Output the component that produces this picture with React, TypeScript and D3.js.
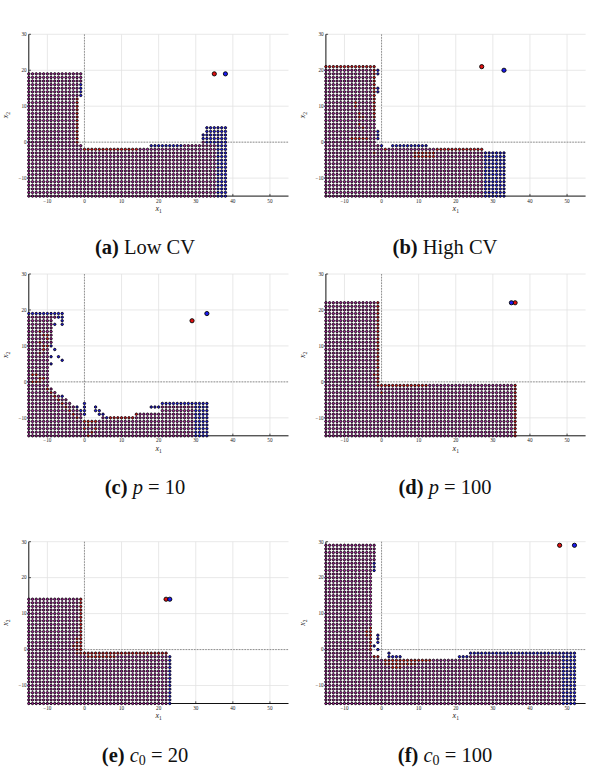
import React from 'react';
import * as d3 from 'd3';

type R = [number, number, number, number]; // x1 from, x1 to, x2 from, x2 to
type P = [number, number];

const xDomain: P = [-15, 55];
const yDomain: P = [-15, 30];
const xTicks = [-10, 0, 10, 20, 30, 40, 50];
const yTicks = [-10, 0, 10, 20, 30];

// (a) Low CV
const aGrid: R[] = [[-15, -2, -15, 19], [-1, -1, 13, 19], [-1, -1, -15, -1], [0, 17, -15, -2], [18, 31, -15, -1], [32, 32, -15, 2], [33, 38, -15, 4]];
const aRed: R[] = [[-2, -2, 0, 12], [0, 14, -2, -2]];
const aBlue: R[] = [[-1, -1, 13, 16], [18, 26, -1, -1], [32, 32, 1, 2], [33, 38, 0, 4], [36, 38, -15, -1]];
const aOpt: P = [35, 19];
const aFound: P = [38, 19];

// (b) High CV
const bGrid: R[] = [[-15, -2, -15, 21], [-1, 0, -15, -1], [1, 27, -15, -2], [28, 33, -15, -3]];
const bRed: R[] = [[-15, -3, 21, 21], [-2, -2, 7, 21], [-7, -7, 10, 11], [-6, -6, 7, 8], [-5, -5, 7, 7], [-6, -6, 5, 5], [-5, -5, 4, 4], [-8, -4, 1, 1], [15, 27, -2, -2], [9, 14, -4, -3], [1, 1, -2, -2], [-2, -2, -3, -3]];
const bBlue: R[] = [[-1, -1, 19, 20], [-1, -1, 14, 15], [-1, -1, 1, 3], [0, 0, -1, -1], [3, 12, -1, -1], [28, 33, -15, -3]];
const bOpt: P = [27, 21];
const bFound: P = [33, 20];

// (c) p = 10
const cGrid: R[] = [
  [-15, -6, 18, 19], [-15, -9, 11, 17], [-15, -10, -1, 10],
  [-15, -9, -2, -2], [-15, -8, -3, -3], [-15, -7, -4, -4], [-15, -5, -5, -5], [-15, -4, -6, -6], [-15, -3, -7, -7],
  [-15, -2, -8, -8], [-15, -1, -10, -9], [-15, 3, -15, -11], [4, 4, -15, -11], [5, 13, -15, -10], [14, 20, -15, -9], [21, 33, -15, -6],
];
const cRed: R[] = [
  [-12, -12, 14, 14], [-11, -11, 13, 13], [-10, -10, 12, 13], [-12, -12, 11, 11], [-11, -10, 10, 10], [-11, -11, 9, 9], [-12, -12, 8, 8],
  [-14, -13, 2, 2], [-12, -11, 1, 1], [-14, -12, 0, 0],
  [-10, -10, -2, -2], [-9, -9, -3, -3], [-8, -8, -4, -4], [-7, -7, -5, -5], [-6, -6, -6, -6], [-5, -5, -7, -7], [-4, -4, -8, -8], [-3, -3, -9, -9], [-2, -2, -10, -10],
  [0, 3, -11, -11], [0, 0, -13, -13], [1, 1, -12, -12], [2, 2, -14, -14], [1, 1, -15, -15], [3, 3, -13, -13],
  [7, 13, -10, -10], [14, 14, -9, -9],
];
const cBlue: R[] = [
  [-15, -6, 19, 19], [-7, -6, 18, 18], [-6, -6, 16, 17], [-8, -8, 16, 16],
  [-9, -9, 10, 10], [-8, -8, 9, 9], [-9, -9, 7, 7], [-7, -7, 7, 7], [-6, -6, 6, 6], [-9, -9, 5, 5],
  [-6, -6, -4, -4], [-2, -2, -7, -7], [-1, -1, -8, -8], [0, 0, -9, -6],
  [3, 3, -8, -7], [4, 4, -9, -8], [5, 5, -9, -9], [6, 6, -10, -10],
  [18, 20, -7, -7], [21, 33, -6, -6], [30, 33, -15, -7],
];
const cOpt: P = [29, 17];
const cFound: P = [33, 19];

// (d) p = 100
const dGrid: R[] = [[-15, -1, -15, 22], [0, 36, -15, -1]];
const dRed: R[] = [[-1, -1, -1, 22], [0, 12, -1, -1], [36, 36, -15, -1], [-2, -2, 2, 2], [0, 0, -3, -3]];
const dBlue: R[] = [];
const dOpt: P = [36, 22];
const dFound: P = [35, 22];

// (e) c0 = 20
const eGrid: R[] = [[-15, -1, -15, 14], [0, 22, -15, -1], [23, 23, -15, -2]];
const eRed: R[] = [[-1, -1, -1, 14], [-2, -2, -1, 3], [-3, -3, 1, 1], [0, 22, -1, -1], [1, 8, -2, -2]];
const eBlue: R[] = [[23, 23, -15, -2]];
const eOpt: P = [22, 14];
const eFound: P = [23, 14];

// (f) c0 = 100
const fGrid: R[] = [[-15, -3, -15, 29], [-2, -2, 22, 29], [-2, -1, -15, -2], [0, 20, -15, -3], [21, 23, -15, -2], [24, 52, -15, -1]];
const fRed: R[] = [[-3, -3, 0, 6], [-4, -4, 4, 5], [-2, -1, -2, -2], [1, 13, -3, -3], [1, 9, -4, -4], [3, 5, -5, -5]];
const fBlue: R[] = [[-2, -2, 22, 24], [-1, -1, 2, 4], [-1, -1, 0, 0], [-2, -2, 1, 1], [2, 2, -1, -1], [2, 5, -2, -2], [21, 23, -2, -2], [24, 52, -1, -1], [49, 52, -15, -2]];
const fOpt: P = [48, 29];
const fFound: P = [52, 29];

const PURPLE = '#a8209a';
const RED = '#e01010';
const BLUE = '#1a1af0';
const EDGE = '#0a030a';

const W = 259.7;
const H = 161.8;
const SERIF = "'Liberation Serif', 'DejaVu Serif', serif";

type Cap = React.ReactNode;

interface PanelDef {
  left: number;
  top: number;
  grid: R[];
  red: R[];
  blue: R[];
  opt: P;
  found: P;
  capX: number;
  caption: Cap;
}

function expand(rects: R[], color: string, map: Map<string, { x: number; y: number; c: string }>) {
  rects.forEach(([a, b, c, d]) => {
    for (const i of d3.range(a, b + 1)) {
      for (const j of d3.range(c, d + 1)) {
        map.set(`${i},${j}`, { x: i, y: j, c: color });
      }
    }
  });
}

function Panel({ p }: { p: PanelDef }) {
  const x = d3.scaleLinear().domain(xDomain).range([0, W]);
  const y = d3.scaleLinear().domain(yDomain).range([H, 0]);
  const map = new Map<string, { x: number; y: number; c: string }>();
  expand(p.grid, PURPLE, map);
  expand(p.red, RED, map);
  expand(p.blue, BLUE, map);
  const pts = Array.from(map.values());
  return (
    <g transform={`translate(${p.left},${p.top})`}>
      {xTicks.map((t) => (
        <line key={'gx' + t} x1={x(t)} x2={x(t)} y1={0} y2={H} stroke="#e2e2e2" strokeWidth={0.8} />
      ))}
      {yTicks.map((t) => (
        <line key={'gy' + t} x1={0} x2={W} y1={y(t)} y2={y(t)} stroke="#e2e2e2" strokeWidth={0.8} />
      ))}
      <line x1={x(0)} x2={x(0)} y1={0} y2={H} stroke="#7a7a7a" strokeWidth={0.8} strokeDasharray="1.6,1.2" />
      <line x1={0} x2={W} y1={y(0)} y2={y(0)} stroke="#7a7a7a" strokeWidth={0.8} strokeDasharray="1.6,1.2" />
      <line x1={0} x2={0} y1={0} y2={H} stroke="#111" strokeWidth={1} />
      <line x1={0} x2={W} y1={H} y2={H} stroke="#111" strokeWidth={1} />
      {xTicks.map((t) => (
        <line key={'tx' + t} x1={x(t)} x2={x(t)} y1={H} y2={H - 2.2} stroke="#111" strokeWidth={0.7} />
      ))}
      {yTicks.map((t) => (
        <line key={'ty' + t} x1={0} x2={2.2} y1={y(t)} y2={y(t)} stroke="#111" strokeWidth={0.7} />
      ))}
      {xTicks.map((t) => (
        <text key={'lx' + t} x={x(t)} y={H + 6.6} fontSize={5.2} textAnchor="middle" fontFamily={SERIF} fill="#222">
          {t < 0 ? '\u2212' + Math.abs(t) : t}
        </text>
      ))}
      {yTicks.map((t) => (
        <text key={'ly' + t} x={-2.2} y={y(t) + 1.8} fontSize={5.2} textAnchor="end" fontFamily={SERIF} fill="#222">
          {t < 0 ? '\u2212' + Math.abs(t) : t}
        </text>
      ))}
      {pts.map((d) => (
        <circle key={d.x + '_' + d.y} cx={x(d.x)} cy={y(d.y)} r={1.2} fill={d.c} stroke={EDGE} strokeWidth={0.9} />
      ))}
      <circle cx={x(p.opt[0])} cy={y(p.opt[1])} r={2.1} fill={RED} stroke="#000" strokeWidth={0.9} />
      <circle cx={x(p.found[0])} cy={y(p.found[1])} r={2.1} fill={BLUE} stroke="#000" strokeWidth={0.9} />
      <text x={W / 2} y={H + 15} fontSize={8} textAnchor="middle" fontFamily={SERIF} fill="#222">
        <tspan fontStyle="italic">x</tspan>
        <tspan fontSize={5.5} dy={1.8}>1</tspan>
      </text>
      <text transform={`translate(${-20.5},${H / 2}) rotate(-90)`} fontSize={8} textAnchor="middle" fontFamily={SERIF} fill="#222">
        <tspan fontStyle="italic">x</tspan>
        <tspan fontSize={5.5} dy={1.8}>2</tspan>
      </text>
      <text x={p.capX - p.left} y={220} fontSize={20.5} textAnchor="middle" fontFamily={SERIF} fill="#111">
        {p.caption}
      </text>
    </g>
  );
}

const B = (s: string) => <tspan fontWeight="bold">{s}</tspan>;
const I = (s: string) => <tspan fontStyle="italic">{s}</tspan>;

const LX = 28.8;
const RX = 325.9;
const T1 = 34.3;
const T2 = 274;
const T3 = 541.7;

const panels: PanelDef[] = [
  { left: LX, top: T1, grid: aGrid, red: aRed, blue: aBlue, opt: aOpt, found: aFound, capX: 145, caption: <>{B('(a)')}<tspan> Low CV</tspan></> },
  { left: RX, top: T1, grid: bGrid, red: bRed, blue: bBlue, opt: bOpt, found: bFound, capX: 445, caption: <>{B('(b)')}<tspan> High CV</tspan></> },
  { left: LX, top: T2, grid: cGrid, red: cRed, blue: cBlue, opt: cOpt, found: cFound, capX: 145, caption: <>{B('(c)')}<tspan> </tspan>{I('p')}<tspan> = 10</tspan></> },
  { left: RX, top: T2, grid: dGrid, red: dRed, blue: dBlue, opt: dOpt, found: dFound, capX: 445, caption: <>{B('(d)')}<tspan> </tspan>{I('p')}<tspan> = 100</tspan></> },
  { left: LX, top: T3, grid: eGrid, red: eRed, blue: eBlue, opt: eOpt, found: eFound, capX: 145, caption: <>{B('(e)')}<tspan> </tspan>{I('c')}<tspan fontSize={14} dy={3}>0</tspan><tspan dy={-3}> = 20</tspan></> },
  { left: RX, top: T3, grid: fGrid, red: fRed, blue: fBlue, opt: fOpt, found: fFound, capX: 445, caption: <>{B('(f)')}<tspan> </tspan>{I('c')}<tspan fontSize={14} dy={3}>0</tspan><tspan dy={-3}> = 100</tspan></> },
];

export default function App() {
  return (
    <svg width={594} height={772} style={{ position: 'absolute', left: 0, top: 0, background: '#fff' }}>
      <rect width={594} height={772} fill="#fff" />
      {panels.map((p, i) => (
        <Panel key={i} p={p} />
      ))}
    </svg>
  );
}
